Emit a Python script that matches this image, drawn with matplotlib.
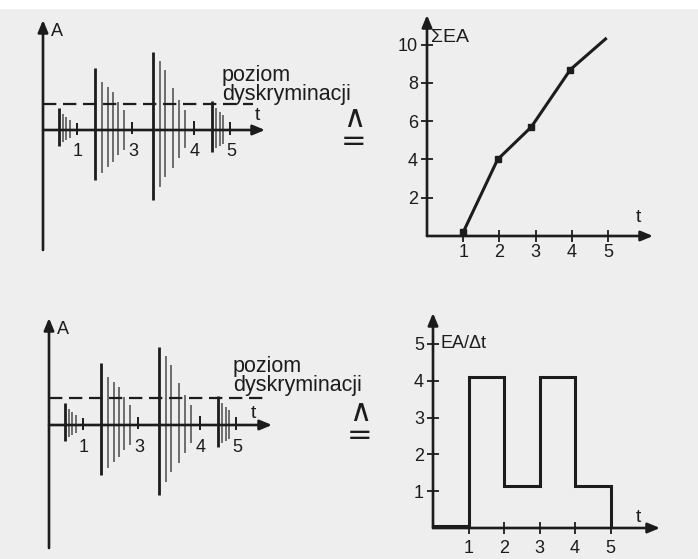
#!/usr/bin/env python3
"""
Acoustic emission sketch: bursts vs. discrimination level,
cumulative EA count and EA rate.
"""

import matplotlib
matplotlib.use('Agg')
import matplotlib.pyplot as plt
from matplotlib.patches import Rectangle

W, H = 698, 559
INK = '#1c1c1c'
GREY = '#4a4a4a'
PAPER = '#eeeeee'

plt.rcParams['font.family'] = ['Liberation Sans', 'DejaVu Sans']

# --- burst signals (time, amplitude above / below the axis) ---
burst1_t = [1.6, 2.0, 2.3, 2.7, 3.4]
burst1_up = [2.2, 1.6, 1.3, 1.0, 0.7]
burst1_down = [1.6, 1.2, 1.0, 0.8, 0.5]

burst2_t = [5.2, 5.9, 6.5, 7.0, 7.5, 8.1, 8.9]
burst2_up = [6.2, 4.8, 4.3, 3.8, 2.8, 2.0, 0.8]
burst2_down = [5.0, 4.3, 3.7, 3.2, 2.5, 2.0, 0.4]

burst3_t = [11.0, 11.7, 12.2, 13.0, 13.6, 14.2, 15.1]
burst3_up = [7.8, 6.9, 6.0, 4.2, 3.0, 2.0, 0.9]
burst3_down = [7.0, 5.7, 4.7, 3.8, 2.8, 1.8, 0.5]

burst4_t = [16.9, 17.3, 17.7, 18.0, 18.7]
burst4_up = [2.9, 2.2, 1.8, 1.5, 0.8]
burst4_down = [2.2, 1.8, 1.6, 1.4, 0.5]

burst_labels = ['1', '3', '4', '5']
threshold_top = 2.6
threshold_bottom = 2.7

# --- cumulative EA ---
sum_t = [1, 1.95, 2.88, 3.96, 4.93]
sum_ea = [0.2, 4.0, 5.7, 8.7, 10.3]
sum_xticks = [1, 2, 3, 4, 5]
sum_yticks = [2, 4, 6, 8, 10]

# --- EA rate ---
rate_edges = [0, 1, 2, 3, 4, 5]
rate_values = [0.05, 4.1, 1.15, 4.1, 1.15]
rate_xticks = [1, 2, 3, 4, 5]
rate_yticks = [1, 2, 3, 4, 5]

ARROW = dict(arrowstyle='-|>,head_length=0.6,head_width=0.25', lw=1.9,
             color=INK, mutation_scale=12, shrinkA=0, shrinkB=0)


def px_axes(fig, left, top, right, bottom, xlim, ylim):
    """Axes whose data box maps onto a pixel box of the figure"""
    ax = fig.add_axes([left / W, 1 - bottom / H, (right - left) / W, (bottom - top) / H])
    ax.set_xlim(*xlim)
    ax.set_ylim(*ylim)
    ax.set_facecolor('none')
    for s in ax.spines.values():
        s.set_visible(False)
    return ax


def arrows(ax, x0, x1, y0, y1):
    ax.annotate('', xy=(x1, 0), xytext=(x0, 0), arrowprops=ARROW, annotation_clip=False)
    ax.annotate('', xy=(0, y1), xytext=(0, y0), arrowprops=ARROW, annotation_clip=False)


def signal_panel(ax, xmax, ymin, ymax, thr, thr_end, a_pos, t_pos, text_pos):
    ax.set_xticks([])
    ax.set_yticks([])
    arrows(ax, 0, xmax, ymin, ymax)
    bursts = [(burst1_t, burst1_up, burst1_down), (burst2_t, burst2_up, burst2_down),
              (burst3_t, burst3_up, burst3_down), (burst4_t, burst4_up, burst4_down)]
    for t, up, down in bursts:
        ax.vlines(t[0], -down[0], up[0], color=INK, lw=2.0)
        ax.vlines(t[1:-1], [-d for d in down[1:-1]], up[1:-1], color=GREY, lw=1.1)
        ax.vlines(t[-1], -down[-1], up[-1], color=INK, lw=1.4)
    for (t, _, _), lab in zip(bursts, burst_labels):
        ax.text(t[-1] + 0.1, -2.2, lab, fontsize=13, ha='center', va='center', color=INK)
    ax.plot([0, thr_end], [thr, thr], color=INK, lw=1.6, ls=(0, (6.0, 3.0)))
    ax.text(*a_pos, 'A', fontsize=13, ha='center', va='center', color=INK)
    ax.text(*t_pos, 't', fontsize=14, ha='center', va='center', color=INK)
    ax.text(text_pos[0], text_pos[1], 'poziom\ndyskryminacji', fontsize=15.5, ha='left',
            va='center', linespacing=0.85, color=INK)


def style_ticks(ax, xticks, yticks, xpad):
    ax.set_xticks(xticks)
    ax.set_yticks(yticks)
    ax.tick_params(axis='both', direction='inout', length=9, width=1.3, color=INK,
                   labelsize=13, labelcolor=INK)
    ax.tick_params(axis='x', pad=xpad)
    ax.tick_params(axis='y', pad=2)


fig = plt.figure(figsize=(W / 100, H / 100), dpi=100, facecolor=PAPER)
fig.add_artist(Rectangle((0, 1 - 9 / H), 1, 9 / H, transform=fig.transFigure,
                         facecolor='white', edgecolor='none'))

# top-left: signal with discrimination level
ax1 = px_axes(fig, 43, 20, 265, 250, (0, 22.2), (-12, 11))
signal_panel(ax1, 22.2, -12, 11, threshold_top, 21.0, (1.4, 9.9), (21.4, 1.5), (17.9, 4.5))

# bottom-left
ax3 = px_axes(fig, 49, 318, 272, 548, (0, 22.3), (-12.3, 10.7))
signal_panel(ax3, 22.3, -12.3, 10.7, threshold_bottom, 21.8, (1.4, 9.5), (20.4, 1.1),
             (18.4, 4.9))

# top-right: cumulative EA
ax2 = px_axes(fig, 427, 15, 653, 236, (0, 6.24), (0, 11.55))
arrows(ax2, 0, 6.24, 0, 11.55)
style_ticks(ax2, sum_xticks, sum_yticks, 1)
ax2.plot(sum_t, sum_ea, color=INK, lw=2.2, solid_joinstyle='round', clip_on=False)
ax2.plot(sum_t[:-1], sum_ea[:-1], 's', color=INK, ms=5, clip_on=False)
ax2.text(0.12, 10.4, 'ΣEA', fontsize=14, ha='left', va='center', color=INK)
ax2.text(5.83, 0.96, 't', fontsize=14, ha='center', va='center', color=INK)

# bottom-right: EA rate
ax4 = px_axes(fig, 433, 313, 660, 528, (0, 6.39), (0, 5.84))
arrows(ax4, 0, 6.39, 0, 5.84)
style_ticks(ax4, rate_xticks, rate_yticks, 4)
ax4.stairs(rate_values, rate_edges, baseline=0, color=INK, lw=2.2, clip_on=False)
ax4.text(0.2, 5.0, 'EA/Δt', fontsize=13, ha='left', va='center', color=INK)
ax4.text(5.79, 0.28, 't', fontsize=14, ha='center', va='center', color=INK)

# 'corresponds to' signs (wedge over equals) between signal and counted quantity
for x, y in ((354, 130), (360, 424)):
    fig.text(x / W, 1 - y / H, '∧\n=', fontsize=22, ha='center', va='center',
             linespacing=0.74, color=INK, family='DejaVu Sans')

fig.savefig('out.png', dpi=100, facecolor=PAPER)
